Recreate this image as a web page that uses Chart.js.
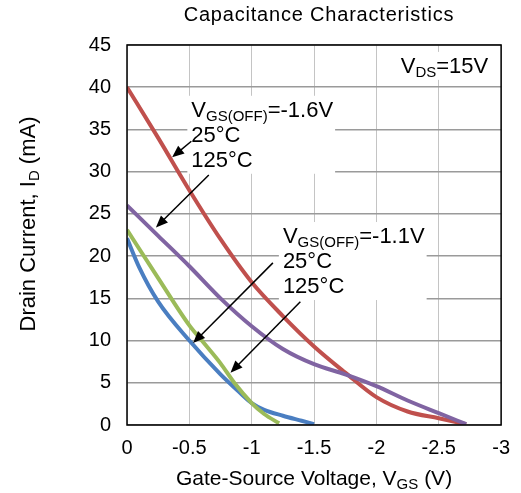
<!DOCTYPE html>
<html lang="en">
<head>
    <meta charset="UTF-8">
    <title>Capacitance Characteristics</title>
    <script src="https://cdn.jsdelivr.net/npm/chart.js"></script>
    <style>
        body { margin: 0; background: #fff; }
    </style>
</head>
<body>
    <canvas id="drainChart" width="521" height="493"></canvas>
    <script>
        const xTicks = [0, -0.5, -1, -1.5, -2, -2.5, -3];
        const xTickLabels = ['0', '-0.5', '-1', '-1.5', '-2', '-2.5', '-3'];
        const yTicks = [0, 5, 10, 15, 20, 25, 30, 35, 40, 45];

        // VGS(OFF) = -1.6V part
        const vgsA25 = [0, -0.25, -0.5, -0.75, -1, -1.25, -1.5, -1.75, -2, -2.25, -2.5, -2.72];
        const idA25 = [40, 34, 27.8, 22, 16.9, 12.9, 9.3, 6.2, 3.3, 1.6, 0.8, 0.1];
        const vgsA125 = [0, -0.25, -0.5, -0.75, -1, -1.25, -1.5, -1.75, -2, -2.25, -2.5, -2.72];
        const idA125 = [26, 22.4, 18.8, 15, 11.7, 9, 7.2, 6, 4.6, 2.9, 1.4, 0.1];

        // VGS(OFF) = -1.1V part
        const vgsB25 = [0, -0.1, -0.25, -0.5, -0.75, -0.9, -1, -1.1, -1.25, -1.4, -1.5];
        const idB25 = [22.1, 18.6, 14.6, 10, 6, 3.9, 2.6, 1.8, 1.1, 0.5, 0.1];
        const vgsB125 = [0, -0.25, -0.5, -0.6, -0.75, -0.86, -1, -1.1, -1.22];
        const idB125 = [23.1, 17.4, 11.8, 10, 7.3, 5, 2.6, 1.3, 0.2];

        const FONT = '"Liberation Sans", Arial, sans-serif';

        function toPoints(xs, ys) {
            return xs.map((x, i) => ({ x: x, y: ys[i] }));
        }

        // draws text made of [text, isSubscript] parts, returns width
        function richText(ctx, x, y, parts, size, subSize, measureOnly) {
            let cx = x;
            parts.forEach(([t, sub]) => {
                ctx.font = (sub ? subSize : size) + 'px ' + FONT;
                if (!measureOnly) ctx.fillText(t, cx, sub ? y + size * 0.18 : y);
                cx += ctx.measureText(t).width;
            });
            return cx - x;
        }

        function arrow(ctx, x1, y1, x2, y2) {
            const a = Math.atan2(y2 - y1, x2 - x1);
            ctx.beginPath();
            ctx.moveTo(x1, y1);
            ctx.lineTo(x2 - 8 * Math.cos(a), y2 - 8 * Math.sin(a));
            ctx.stroke();
            ctx.beginPath();
            ctx.moveTo(x2, y2);
            ctx.lineTo(x2 - 12 * Math.cos(a) + 5 * Math.sin(a), y2 - 12 * Math.sin(a) - 5 * Math.cos(a));
            ctx.lineTo(x2 - 12 * Math.cos(a) - 5 * Math.sin(a), y2 - 12 * Math.sin(a) + 5 * Math.cos(a));
            ctx.closePath();
            ctx.fill();
        }

        // text blocks placed in data space: vgs, id of first baseline, lines
        const notes = [
            { x: -0.516, y: 36.5, lines: [[['V', 0], ['GS(OFF)', 1], ['=-1.6V', 0]], [['25°C', 0]], [['125°C', 0]]] },
            { x: -1.25, y: 21.55, lines: [[['V', 0], ['GS(OFF)', 1], ['=-1.1V', 0]], [['25°C', 0]], [['125°C', 0]]] },
            { x: -2.195, y: 41.7, lines: [[['V', 0], ['DS', 1], ['=15V', 0]]] }
        ];
        const arrows = [
            [-0.516, 33.6, -0.362, 31.7],
            [-0.656, 29.6, -0.232, 23.4],
            [-1.17, 19.2, -0.53, 9.7],
            [-1.39, 14.6, -0.83, 6.2]
        ];

        const notesPlugin = {
            id: 'notes',
            beforeDatasetsDraw(chart) {
                const { ctx, scales: { x, y } } = chart;
                ctx.save();
                ctx.fillStyle = '#fff';
                notes.forEach(n => {
                    const px = x.getPixelForValue(n.x);
                    const py = y.getPixelForValue(n.y);
                    const w = richText(ctx, px, py, n.lines[0], 22, 15, true);
                    ctx.fillRect(px - 4, py - 21, w + 6, (n.lines.length - 1) * 25 + 28);
                });
                ctx.restore();
            },
            afterDatasetsDraw(chart) {
                const { ctx, scales: { x, y } } = chart;
                ctx.save();
                ctx.fillStyle = '#000';
                ctx.strokeStyle = '#000';
                ctx.lineWidth = 1.5;
                ctx.textBaseline = 'alphabetic';
                notes.forEach(n => {
                    const px = x.getPixelForValue(n.x);
                    const py = y.getPixelForValue(n.y);
                    n.lines.forEach((ln, i) => richText(ctx, px, py + i * 25, ln, 22, 15));
                });
                arrows.forEach(a => arrow(ctx,
                    x.getPixelForValue(a[0]), y.getPixelForValue(a[1]),
                    x.getPixelForValue(a[2]), y.getPixelForValue(a[3])));
                ctx.restore();
            },
            afterDraw(chart) {
                const { ctx, chartArea: ca } = chart;
                ctx.save();
                ctx.strokeStyle = '#000';
                ctx.lineWidth = 1.5;
                ctx.strokeRect(ca.left, ca.top, ca.right - ca.left, ca.bottom - ca.top);

                ctx.fillStyle = '#000';
                ctx.textBaseline = 'middle';
                ctx.textAlign = 'center';
                ctx.font = '20px ' + FONT;
                ctx.letterSpacing = '0.8px';
                ctx.fillText('Capacitance Characteristics', 319, 15);
                ctx.letterSpacing = '0px';

                ctx.textAlign = 'left';
                ctx.textBaseline = 'alphabetic';
                const xTitle = [['Gate-Source Voltage, V', 0], ['GS', 1], [' (V)', 0]];
                const xw = richText(ctx, 0, 0, xTitle, 21, 15, true);
                richText(ctx, (ca.left + ca.right) / 2 - xw / 2, 485, xTitle, 21, 15);

                const yTitle = [['Drain Current, I', 0], ['D', 1], [' (mA)', 0]];
                const yw = richText(ctx, 0, 0, yTitle, 22, 15, true);
                ctx.translate(35, 224);
                ctx.rotate(-Math.PI / 2);
                richText(ctx, -yw / 2, 0, yTitle, 22, 15);
                ctx.restore();
            }
        };

        const lineStyle = { borderWidth: 4, pointRadius: 0, fill: false, cubicInterpolationMode: 'monotone' };

        new Chart(document.getElementById('drainChart'), {
            type: 'line',
            data: {
                datasets: [
                    { label: '125°C, VGS(OFF)=-1.6V', data: toPoints(vgsA125, idA125), borderColor: 'rgb(128, 100, 162)', ...lineStyle },
                    { label: '125°C, VGS(OFF)=-1.1V', data: toPoints(vgsB125, idB125), borderColor: 'rgb(155, 187, 89)', ...lineStyle },
                    { label: '25°C, VGS(OFF)=-1.6V', data: toPoints(vgsA25, idA25), borderColor: 'rgb(192, 80, 77)', ...lineStyle },
                    { label: '25°C, VGS(OFF)=-1.1V', data: toPoints(vgsB25, idB25), borderColor: 'rgb(74, 126, 193)', ...lineStyle }
                ]
            },
            options: {
                responsive: false,
                animation: false,
                devicePixelRatio: 1,
                layout: { padding: { left: 0, top: 45, right: 12, bottom: 0 } },
                plugins: {
                    legend: { display: false },
                    tooltip: { enabled: false }
                },
                scales: {
                    x: {
                        type: 'linear',
                        min: -3,
                        max: 0,
                        reverse: true,
                        afterBuildTicks: s => { s.ticks = xTicks.map(v => ({ value: v })); },
                        afterFit: s => { s.height = 68; },
                        ticks: {
                            callback: v => xTickLabels[xTicks.indexOf(v)],
                            color: '#000',
                            font: { family: FONT, size: 20 },
                            padding: 11,
                            maxRotation: 0
                        },
                        grid: { color: '#c4c4c4', lineWidth: 1, drawTicks: false },
                        border: { display: false }
                    },
                    y: {
                        min: 0,
                        max: 45,
                        afterBuildTicks: s => { s.ticks = yTicks.map(v => ({ value: v })); },
                        afterFit: s => { s.width = 127; },
                        ticks: {
                            color: '#000',
                            font: { family: FONT, size: 20 },
                            padding: 16
                        },
                        grid: { color: '#9a9a9a', lineWidth: 1.5, drawTicks: false },
                        border: { display: false }
                    }
                }
            },
            plugins: [notesPlugin]
        });
    </script>
</body>
</html>
